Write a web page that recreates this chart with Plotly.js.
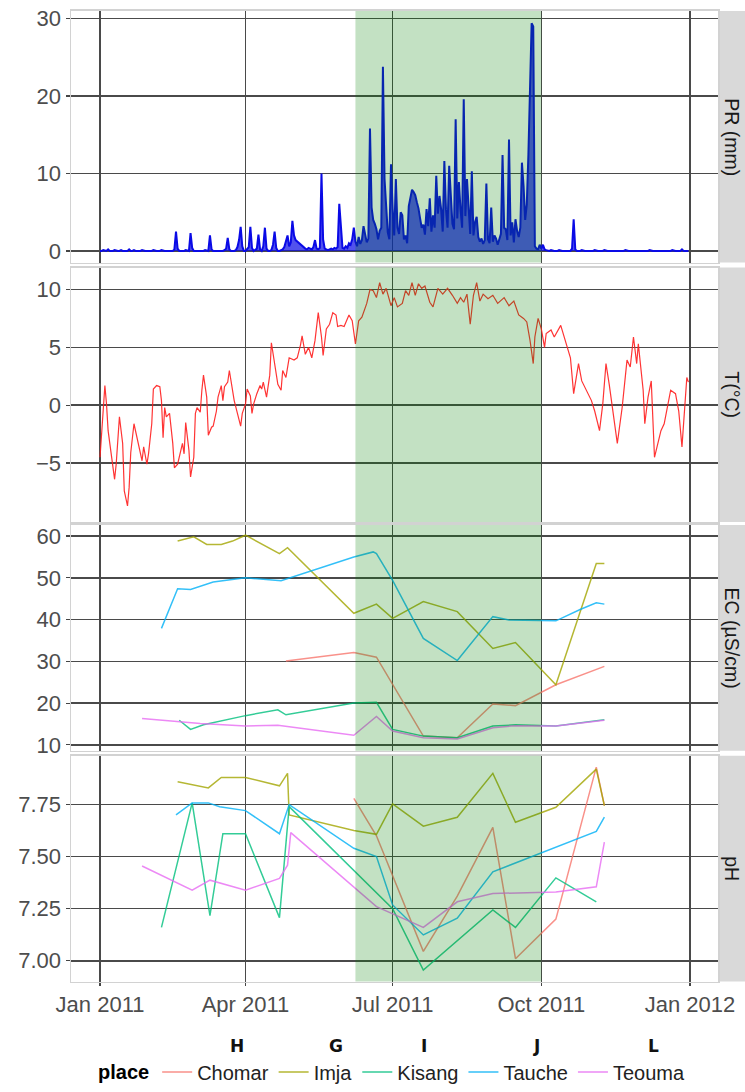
<!DOCTYPE html>
<html><head><meta charset="utf-8">
<script src="https://cdn.plot.ly/plotly-3.0.1.min.js"></script>
<style>html,body{margin:0;padding:0;background:#fff;}#chart{width:745px;height:1092px;}</style>
</head><body><div id="chart"></div>
<script>
// ---------- categories / labels ----------
const places = ['Chomar', 'Imja', 'Kisang', 'Tauche', 'Teouma'];
const placeCodes = ['H', 'G', 'I', 'J', 'L'];
const placeColors = ['#F8766D', '#A3A500', '#00BF7D', '#00B0F6', '#E76BF3'];
const panelLabels = ['PR (mm)', 'T(°C)', 'EC (µS/cm)', 'pH'];
const monsoonStart = '2011-06-08';
const monsoonEnd = '2011-10-01';
const xTickDates = ['2011-01-01', '2011-04-01', '2011-07-01', '2011-10-01', '2012-01-01'];
const xTickLabels = ['Jan 2011', 'Apr 2011', 'Jul 2011', 'Oct 2011', 'Jan 2012'];

// ---------- daily precipitation 2011 (mm), one array per month ----------
const prJan = [0,0,0.1,0,0, 0.2,0,0,0,0.1, 0,0,0,0.1,0, 0,0,0,0.2,0, 0,0.1,0,0,0, 0,0.1,0,0,0, 0];
const prFeb = [0,0,0.1,0,0, 0,0,0.1,0,0, 0,0,0,0,0, 0.2,2.5,0.3,0,0, 0,0,0.1,0,0, 2.3,0.4,0];
const prMar = [0,0,0,0,0, 0,0.1,0,0,2.0, 0.2,0,0,0,0, 0,0,0,0.1,0.3, 1.7,0.2,0,0,0, 0.1,0.5,1.4,3.1,0.6, 0];
const prApr = [0,0.2,0.5,3.1,0.4, 0,0.1,0.3,2.1,0.2, 0,0.6,3.0,0.3,0, 0,0.1,0.8,2.5,0.4, 0,0,0.1,0.2,0.5, 1.2,2.0,0.6,1.1,3.9];
const prMay = [2.0,1.4,1.2,1.0,0.9, 0.6,0.5,0.3,0.2,0.4, 0.3,0.2,0.5,1.4,0.3, 0.2,0.4,10.0,1.5,0.3, 0.2,0.1,0.2,0.3,0.2, 0.4,0.3,0.5,6.1,3.5, 0.4];
const prJun = [0.3,0.6,0.4,1.0,0.8, 1.5,3.0,1.2,0.6,1.8, 0.9,1.4,3.2,2.0,1.1, 1.6,15.8,5.6,4.0,3.5, 2.8,1.5,2.6,3.0,23.8, 9.3,6.3,2.4,1.5,11.2];
const prJul = [5.4,2.0,9.3,3.0,2.2, 5.0,4.6,1.5,2.0,1.0, 5.8,7.1,7.9,7.6,7.2, 6.3,5.5,4.2,3.0,3.4, 2.1,5.4,3.2,6.8,2.5, 4.6,3.0,9.7,4.8,7.1, 5.4];
const prAug = [2.5,11.6,5.4,3.0,11.0, 6.3,3.5,2.8,17.0,4.2, 8.9,5.4,3.0,19.6,4.5, 9.3,5.4,2.2,10.3,2.0, 3.7,4.4,1.8,1.2,1.6, 0.9,1.4,8.7,1.5,1.0, 5.6];
const prSep = [1.2,2.0,1.6,0.8,1.5, 2.2,12.4,3.0,2.8,1.4, 14.4,2.0,3.7,1.1,4.1, 2.6,1.8,3.0,11.4,8.4, 4.0,6.0,12.5,20.6,29.4, 29.0,0.6,0.3,0.2,0.8];
const prOct = [0.3,0.8,0.2,0.1,0, 0,0.1,0,0,0, 0,0.1,0,0,0, 0,0,0,0,0.3, 4.1,0.2,0,0,0, 0.1,0,0,0,0, 0];
const prNov = [0,0,0.1,0,0, 0,0,0,0.1,0, 0,0,0,0,0, 0,0,0,0,0, 0,0.1,0,0,0, 0,0,0,0,0];
const prDec = [0,0,0,0,0, 0,0.1,0,0,0, 0,0,0,0,0, 0,0,0,0,0, 0.1,0,0,0,0, 0,0.2,0,0,0, 0];

// ---------- temperature: [day of 2011 (0 = 1 Jan), °C] ----------
const tempSeries = [
 [0,-4.5],[1,-2.2],[3,1.7],[4,0.1],[5,-2.2],[9,-6.4],[10,-5.1],[12,-1.0],[14,-3.3],[15,-7.4],
 [17,-8.7],[18,-7.1],[19,-4.1],[21,-1.6],[23,-2.9],[25,-3.9],[26,-4.8],[27,-3.6],[29,-5.1],[30,-4.2],
 [32,-1.6],[33,1.4],[35,1.7],[37,1.6],[38,0.4],[39,-2.8],[40,-0.2],[41,-1.0],[43,-0.7],[45,-3.3],
 [46,-5.4],[48,-5.1],[49,-4.5],[51,-3.3],[52,-4.2],[53,-1.5],[55,-3.9],[56,-6.2],[58,-4.5],[59,-0.7],
 [60,-0.2],[62,-0.6],[63,1.3],[64,2.6],[66,0.7],[67,-2.6],[69,-1.9],[70,-1.8],[72,-0.5],[73,0.7],
 [75,1.7],[76,0.4],[77,1.6],[79,2.0],[80,3.0],[82,1.3],[83,0.4],[85,-0.7],[87,-1.8],[88,-0.7],
 [90,0.1],[91,1.4],[93,0.8],[94,-0.7],[95,0.1],[97,1.0],[99,1.7],[100,1.4],[101,2.0],[103,0.7],
 [105,2.6],[106,5.4],[108,3.6],[110,1.8],[112,1.3],[113,3.0],[115,2.4],[117,4.1],[120,3.9],[122,4.1],
 [124,5.2],[125,6.0],[127,4.4],[129,5.0],[131,4.1],[133,5.6],[135,8.0],[137,5.9],[138,4.3],[140,6.6],
 [142,7.0],[144,8.0],[146,7.8],[147,6.8],[149,6.9],[151,6.8],[154,7.8],[156,7.3],[158,5.3],[160,7.3],
 [162,7.6],[165,8.8],[167,10.0],[169,9.9],[171,9.3],[173,10.6],[175,9.6],[177,10.1],[180,8.6],[182,9.3],
 [184,8.5],[187,8.8],[189,9.9],[191,9.5],[193,10.6],[195,9.5],[197,10.5],[199,10.1],[201,10.3],[204,8.9],
 [206,8.5],[209,10.1],[212,9.6],[215,10.1],[218,9.5],[221,8.8],[223,9.3],[225,8.9],[227,9.6],[229,7.0],
 [231,9.5],[233,10.6],[235,9.0],[237,9.6],[240,9.2],[243,9.5],[246,8.8],[250,9.3],[253,8.6],[256,9.0],
 [259,7.8],[262,7.5],[264,7.2],[266,5.6],[268,3.6],[269,5.9],[271,7.5],[273,6.6],[275,5.0],[276,6.2],
 [279,6.5],[281,5.9],[285,6.9],[288,5.6],[291,4.1],[293,1.0],[296,3.6],[298,2.1],[301,1.3],[304,0.4],
 [306,-0.5],[309,-2.2],[311,0.1],[313,3.6],[315,1.8],[318,-1.0],[320,-3.3],[323,-0.2],[326,3.9],[328,3.3],
 [330,5.9],[332,3.6],[333,5.3],[336,1.3],[337,-1.6],[339,0.7],[341,2.1],[343,-4.5],[345,-3.3],[347,-2.2],
 [349,-1.6],[351,-0.2],[353,1.3],[356,1.0],[358,-0.5],[360,-3.6],[362,0.4],[363,2.4],[364,2.0]
];

// ---------- EC (µS/cm) samples ----------
const ecChomar = [['2011-04-26',30.1],['2011-06-07',32.1],['2011-06-21',31.0],['2011-07-20',12.1],['2011-08-10',11.7],['2011-09-01',19.8],['2011-09-15',19.4],['2011-10-10',24.4],['2011-11-09',28.8]];
const ecImja = [['2011-02-18',58.8],['2011-02-28',59.8],['2011-03-08',58.0],['2011-03-17',58.0],['2011-03-24',58.8],['2011-04-01',60.2],['2011-04-22',55.8],['2011-04-27',57.2],['2011-06-07',41.5],['2011-06-21',43.7],['2011-07-01',40.3],['2011-07-20',44.3],['2011-08-10',41.9],['2011-09-01',33.1],['2011-09-15',34.5],['2011-10-10',24.4],['2011-11-04',53.4],['2011-11-09',53.4]];
const ecKisang = [['2011-02-19',15.9],['2011-02-26',13.7],['2011-03-06',14.8],['2011-04-01',17.0],['2011-04-21',18.4],['2011-04-26',17.2],['2011-06-07',20.0],['2011-06-21',20.2],['2011-07-01',13.7],['2011-07-20',12.1],['2011-08-10',11.7],['2011-09-01',14.5],['2011-09-15',14.8],['2011-10-10',14.5],['2011-11-09',16.0]];
const ecTauche = [['2011-02-08',37.9],['2011-02-18',47.4],['2011-02-26',47.2],['2011-03-12',49.0],['2011-04-01',50.0],['2011-04-23',49.3],['2011-06-07',55.0],['2011-06-19',56.2],['2011-06-21',55.8],['2011-07-01',49.4],['2011-07-20',35.5],['2011-08-10',30.2],['2011-09-01',40.7],['2011-09-11',39.9],['2011-10-10',39.7],['2011-10-25',42.4],['2011-11-04',44.0],['2011-11-09',43.7]];
const ecTeouma = [['2011-01-27',16.3],['2011-02-19',15.6],['2011-03-04',15.1],['2011-04-01',14.5],['2011-04-21',14.7],['2011-06-07',12.3],['2011-06-21',16.8],['2011-07-01',13.3],['2011-07-20',11.7],['2011-08-10',11.4],['2011-09-01',14.1],['2011-09-15',14.6],['2011-10-10',14.5],['2011-11-09',15.9]];

// ---------- pH samples ----------
const phChomar = [['2011-06-07',7.78],['2011-06-21',7.60],['2011-07-20',7.045],['2011-08-10',7.31],['2011-09-01',7.64],['2011-09-15',7.01],['2011-10-10',7.20],['2011-11-04',7.93],['2011-11-09',7.745]];
const phImja = [['2011-02-18',7.86],['2011-03-09',7.83],['2011-03-17',7.88],['2011-04-01',7.88],['2011-04-22',7.84],['2011-04-27',7.90],['2011-04-28',7.70],['2011-06-07',7.625],['2011-06-21',7.607],['2011-07-01',7.753],['2011-07-20',7.646],['2011-08-10',7.689],['2011-09-01',7.90],['2011-09-15',7.665],['2011-10-10',7.737],['2011-11-04',7.92],['2011-11-09',7.745]];
const phKisang = [['2011-02-08',7.16],['2011-02-27',7.758],['2011-03-10',7.217],['2011-03-18',7.61],['2011-04-01',7.61],['2011-04-22',7.207],['2011-04-28',7.74],['2011-06-21',7.33],['2011-07-01',7.25],['2011-07-20',6.955],['2011-09-01',7.244],['2011-09-15',7.16],['2011-10-10',7.398],['2011-11-04',7.283]];
const phTauche = [['2011-02-17',7.70],['2011-02-27',7.758],['2011-03-09',7.758],['2011-03-16',7.74],['2011-04-01',7.721],['2011-04-22',7.61],['2011-04-28',7.75],['2011-06-07',7.54],['2011-06-21',7.50],['2011-07-01',7.268],['2011-07-20',7.124],['2011-08-10',7.204],['2011-09-01',7.427],['2011-10-10',7.545],['2011-11-04',7.621],['2011-11-09',7.69]];
const phTeouma = [['2011-01-27',7.455],['2011-02-27',7.339],['2011-03-10',7.387],['2011-04-01',7.339],['2011-04-22',7.395],['2011-04-27',7.459],['2011-04-29',7.615],['2011-06-21',7.26],['2011-07-20',7.16],['2011-08-10',7.283],['2011-09-01',7.323],['2011-10-10',7.33],['2011-11-04',7.355],['2011-11-09',7.57]];

// ---------- build traces ----------
const pad = n => String(n).padStart(2, '0');
const prMonths = [prJan, prFeb, prMar, prApr, prMay, prJun, prJul, prAug, prSep, prOct, prNov, prDec];
const prX = [], prY = [];
prMonths.forEach((arr, m) => arr.forEach((v, i) => { prX.push(`2011-${pad(m + 1)}-${pad(i + 1)}`); prY.push(v); }));
const dayToDate = d => new Date(Date.UTC(2011, 0, 1 + d)).toISOString().slice(0, 10);

function rgba(hex, a) {
  const n = parseInt(hex.slice(1), 16);
  return `rgba(${(n >> 16) & 255},${(n >> 8) & 255},${n & 255},${a})`;
}

const traces = [];
traces.push({ x: prX, y: prY, type: 'scatter', mode: 'lines', xaxis: 'x', yaxis: 'y',
  fill: 'tozeroy', fillcolor: 'rgba(15,15,230,0.72)',
  line: { color: '#0a0ae6', width: 2 }, showlegend: false, hoverinfo: 'skip' });
traces.push({ x: tempSeries.map(p => dayToDate(p[0])), y: tempSeries.map(p => p[1]), type: 'scatter', mode: 'lines',
  xaxis: 'x2', yaxis: 'y2', line: { color: 'rgba(255,30,30,0.9)', width: 1.2 }, showlegend: false, hoverinfo: 'skip' });

const ecSets = [ecChomar, ecImja, ecKisang, ecTauche, ecTeouma];
const phSets = [phChomar, phImja, phKisang, phTauche, phTeouma];
places.forEach((p, i) => {
  traces.push({ x: ecSets[i].map(d => d[0]), y: ecSets[i].map(d => d[1]), type: 'scatter', mode: 'lines',
    xaxis: 'x3', yaxis: 'y3', name: p, legendgroup: p, showlegend: false,
    line: { color: rgba(placeColors[i], 0.8), width: 1.5 }, hoverinfo: 'skip' });
});
places.forEach((p, i) => {
  traces.push({ x: phSets[i].map(d => d[0]), y: phSets[i].map(d => d[1]), type: 'scatter', mode: 'lines',
    xaxis: 'x4', yaxis: 'y4', name: p, legendgroup: p, showlegend: true,
    line: { color: rgba(placeColors[i], 0.8), width: 1.5 }, hoverinfo: 'skip' });
});

// ---------- layout ----------
const W = 745, H = 1092;
const fx = px => px / W;
const fy = py => 1 - py / H;
const panelPx = [[11, 264], [269, 525], [528, 755], [760, 987]];
const yRanges = [[-1.5, 31.0], [-10.1, 11.9], [8.57, 62.62], [6.900, 7.984]];
const yTicks = [[0, 10, 20, 30], [-5, 0, 5, 10], [10, 20, 30, 40, 50, 60], [7.0, 7.25, 7.5, 7.75]];
const xRange = ['2010-12-14 01:00', '2012-01-18 07:00'];
const fontFam = '"Liberation Sans", Arial, sans-serif';

const layout = {
  width: W, height: H, margin: { l: 0, r: 0, t: 0, b: 0 },
  paper_bgcolor: '#fff', plot_bgcolor: '#fff',
  font: { family: fontFam, color: '#4d4d4d' },
  showlegend: true,
  legend: { orientation: 'h', x: fx(96), xanchor: 'left', y: fy(1078), yanchor: 'middle',
    font: { size: 20, color: '#222', family: fontFam }, bgcolor: 'rgba(0,0,0,0)',
    title: { text: '<b>place</b>', font: { size: 20, color: '#000', family: fontFam } },
    itemwidth: 30, traceorder: 'normal' },
  shapes: [], annotations: []
};

const axisCommon = {
  showgrid: true, gridcolor: '#4a4a4a', gridwidth: 1.5, zeroline: false,
  showline: true, mirror: true, linecolor: '#d2d2d2', linewidth: 1.5,
  ticks: 'outside', ticklen: 4, tickwidth: 1.2, tickcolor: '#444',
  tickfont: { size: 22, color: '#4d4d4d', family: fontFam }, automargin: false, fixedrange: true
};

for (let k = 0; k < 4; k++) {
  const sfx = k === 0 ? '' : String(k + 1);
  layout['xaxis' + sfx] = Object.assign({}, axisCommon, {
    type: 'date', range: xRange, domain: [fx(71), fx(718)], anchor: 'y' + sfx,
    tickvals: xTickDates, ticktext: xTickLabels, showticklabels: k === 3,
    ticks: k === 3 ? 'outside' : '', ticklen: 3
  });
  layout['yaxis' + sfx] = Object.assign({}, axisCommon, {
    range: yRanges[k], domain: [fy(panelPx[k][1]), fy(panelPx[k][0])], anchor: 'x' + sfx,
    tickvals: yTicks[k], tickformat: k === 3 ? '.2f' : ''
  });
  // monsoon shading drawn over the lines
  layout.shapes.push({ type: 'rect', xref: 'x' + sfx, yref: 'y' + sfx + ' domain',
    x0: monsoonStart, x1: monsoonEnd, y0: 0, y1: 1, fillcolor: 'rgb(0,128,0)', opacity: 0.235,
    line: { width: 0 }, layer: 'above' });
  // facet strip
  layout.shapes.push({ type: 'rect', xref: 'paper', yref: 'paper', x0: fx(720), x1: 1,
    y0: fy(panelPx[k][1]), y1: fy(panelPx[k][0]), fillcolor: '#d9d9d9', line: { width: 0 }, layer: 'below' });
  layout.annotations.push({ xref: 'paper', yref: 'paper', x: fx(732.5), y: fy((panelPx[k][0] + panelPx[k][1]) / 2),
    text: panelLabels[k], textangle: 90, showarrow: false, xanchor: 'center', yanchor: 'middle',
    font: { size: 19.5, color: '#1a1a1a', family: fontFam } });
}

// site codes above the legend entries
const codeX = [237, 336, 424, 536, 653];
placeCodes.forEach((c, i) => {
  layout.annotations.push({ xref: 'paper', yref: 'paper', x: fx(codeX[i]), y: fy(1052), text: '<b>' + c + '</b>',
    showarrow: false, xanchor: 'center', yanchor: 'middle',
    font: { size: 17, color: '#111', family: '"DejaVu Sans", sans-serif' } });
});

Plotly.newPlot('chart', traces, layout, { displayModeBar: false, staticPlot: true });
</script>
</body></html>
